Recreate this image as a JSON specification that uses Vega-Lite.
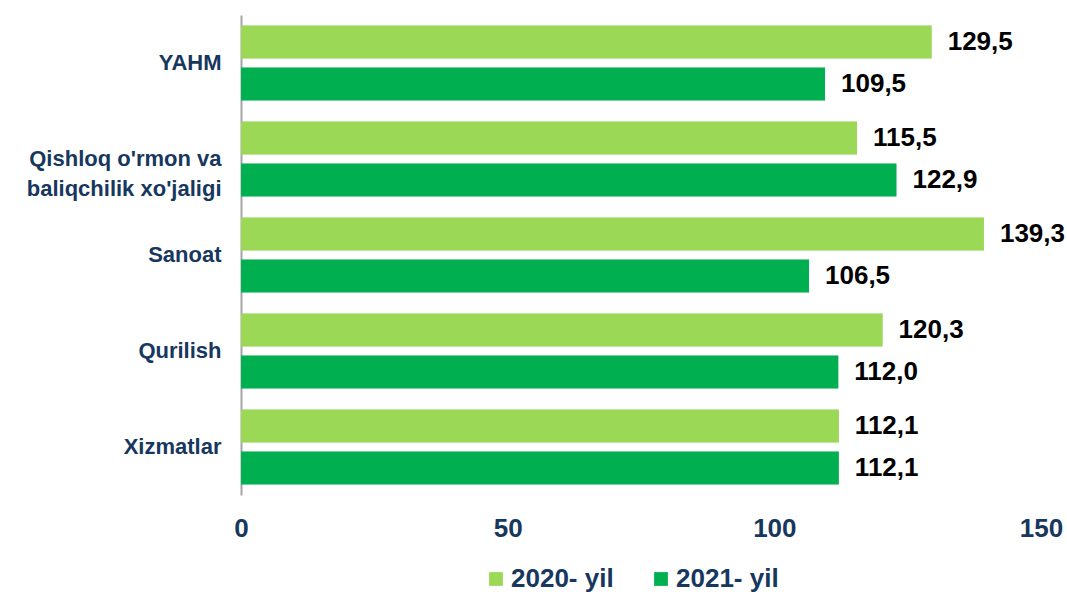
{
  "$schema": "https://vega.github.io/schema/vega-lite/v6.json",
  "width": 800,
  "height": 480,
  "padding": {"top": 15, "left": 5, "right": 5, "bottom": 5},
  "background": "white",
  "config": {
    "view": {"stroke": null},
    "locale": {"number": {"decimal": ",", "thousands": " ", "grouping": [3], "currency": ["", ""]}},
    "font": "Liberation Sans"
  },
  "data": {
    "values": [
      {"sector": "YAHM", "year": "2020- yil", "value": 129.5},
      {"sector": "YAHM", "year": "2021- yil", "value": 109.5},
      {"sector": "Qishloq o'rmon va baliqchilik xo'jaligi", "year": "2020- yil", "value": 115.5},
      {"sector": "Qishloq o'rmon va baliqchilik xo'jaligi", "year": "2021- yil", "value": 122.9},
      {"sector": "Sanoat", "year": "2020- yil", "value": 139.3},
      {"sector": "Sanoat", "year": "2021- yil", "value": 106.5},
      {"sector": "Qurilish", "year": "2020- yil", "value": 120.3},
      {"sector": "Qurilish", "year": "2021- yil", "value": 112.0},
      {"sector": "Xizmatlar", "year": "2020- yil", "value": 112.1},
      {"sector": "Xizmatlar", "year": "2021- yil", "value": 112.1}
    ]
  },
  "encoding": {
    "y": {
      "field": "sector",
      "type": "nominal",
      "sort": ["YAHM", "Qishloq o'rmon va baliqchilik xo'jaligi", "Sanoat", "Qurilish", "Xizmatlar"],
      "scale": {"paddingInner": 0.22, "paddingOuter": 0.11},
      "axis": {
        "title": null,
        "ticks": false,
        "domainColor": "#A6A6A6",
        "domainWidth": 2,
        "labelFont": "Liberation Sans",
        "labelFontSize": 22,
        "labelFontWeight": "bold",
        "labelColor": "#17375E",
        "labelPadding": 20,
        "labelLimit": 300,
        "labelLineHeight": 30,
        "minExtent": 236,
        "maxExtent": 236,
        "labelExpr": "indexof(datum.value, ' va ') > 0 ? [\"Qishloq o'rmon va\", \"baliqchilik xo'jaligi\"] : datum.value"
      }
    },
    "yOffset": {
      "field": "year",
      "type": "nominal",
      "sort": ["2020- yil", "2021- yil"],
      "scale": {"paddingInner": 0.21, "paddingOuter": 0}
    },
    "x": {
      "field": "value",
      "type": "quantitative",
      "scale": {"domain": [0, 150], "nice": false},
      "axis": {
        "title": null,
        "values": [0, 50, 100, 150],
        "grid": false,
        "domain": false,
        "ticks": false,
        "labelFont": "Liberation Sans",
        "labelFontSize": 26,
        "labelFontWeight": "bold",
        "labelColor": "#17375E",
        "labelPadding": 20,
        "labelFlush": false,
        "labelOverlap": false
      }
    }
  },
  "layer": [
    {
      "mark": {"type": "bar", "color": "#BFBFBF", "opacity": 0.5, "yOffset": 4, "x2Offset": 2},
      "encoding": {}
    },
    {
      "mark": {"type": "bar"},
      "encoding": {
        "color": {
          "field": "year",
          "type": "nominal",
          "scale": {"domain": ["2020- yil", "2021- yil"], "range": ["#9BD856", "#00B050"]},
          "legend": {
            "title": null,
            "orient": "none",
            "legendX": 242,
            "legendY": 551,
            "direction": "horizontal",
            "symbolType": "square",
            "symbolSize": 190,
            "symbolStrokeWidth": 0,
            "symbolOpacity": 1,
            "labelFont": "Liberation Sans",
            "labelFontSize": 26,
            "labelFontWeight": "bold",
            "labelColor": "#17375E",
            "labelOffset": 2,
            "columnPadding": 34
          }
        }
      }
    },
    {
      "mark": {"type": "text", "align": "left", "dx": 16, "font": "Liberation Sans", "fontSize": 26, "fontWeight": "bold", "color": "#000000"},
      "encoding": {
        "text": {"field": "value", "type": "quantitative", "format": ".1f"}
      }
    }
  ]
}
